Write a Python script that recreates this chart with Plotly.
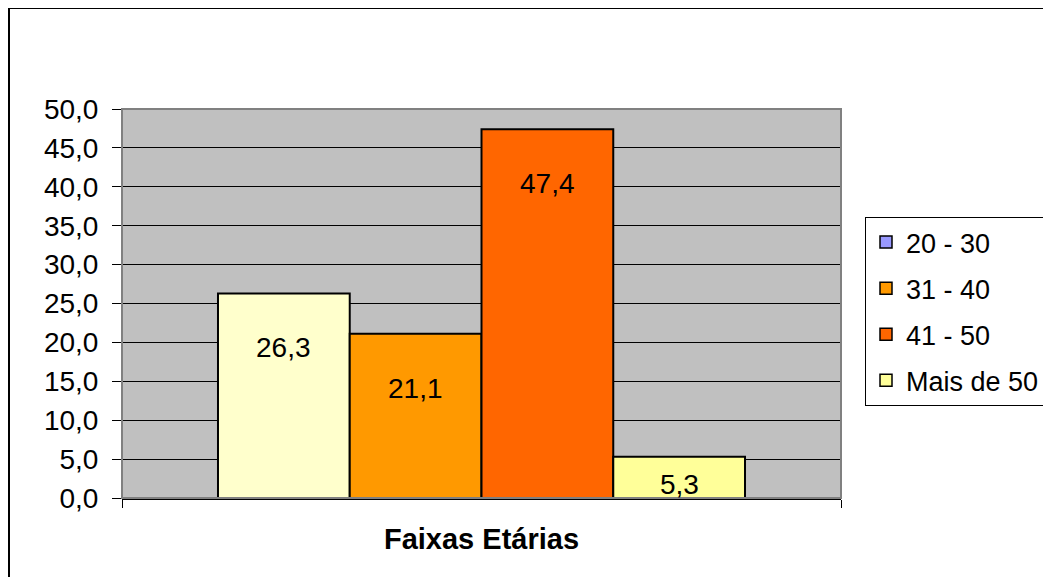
import plotly.graph_objects as go

# ---- data ----
categories = ["20 - 30", "31 - 40", "41 - 50", "Mais de 50"]
values = [26.3, 21.1, 47.4, 5.3]
bar_colors = ["#FFFFCC", "#FF9900", "#FF6600", "#FFFF99"]
legend_colors = ["#9999FF", "#FF9900", "#FF6600", "#FFFF99"]
y_ticks = [0, 5, 10, 15, 20, 25, 30, 35, 40, 45, 50]
x_title = "Faixas Etárias"

FONT = "Liberation Sans, Arial, sans-serif"
OFF = 8  # browser body margin
W, H = 1051 - OFF, 577 - OFF
L, T = 122 - OFF, 109 - OFF
pw, ph = 719, 389
R, B = W - L - pw, H - T - ph

gap = 0.267
bw = (1 - gap) / len(values)
start = -0.5 + gap / 2

fig = go.Figure()

for i, (c, v) in enumerate(zip(categories, values)):
    fig.add_trace(go.Bar(
        x=[0], y=[v], width=bw, offset=start + i * bw,
        marker=dict(color=bar_colors[i], line=dict(color="black", width=2)),
        showlegend=False, hoverinfo="skip", name=c,
    ))

for i, c in enumerate(categories):
    fig.add_trace(go.Bar(
        x=[None], y=[None], name=c, legendgroup=c,
        marker=dict(color=legend_colors[i], line=dict(color="black", width=1.5)),
        showlegend=True,
    ))

# data labels
for i, v in enumerate(values):
    fig.add_annotation(
        x=start + i * bw + bw / 2, y=max(v - 7, v / 3), xref="x", yref="y",
        text=f"{v:.1f}".replace(".", ","), showarrow=False,
        font=dict(family=FONT, size=28, color="black"),
    )

# plot area border (grey)
fig.add_shape(type="rect", xref="paper", yref="paper", x0=0, x1=1, y0=0, y1=1,
              line=dict(color="#808080", width=2), fillcolor="rgba(0,0,0,0)", layer="above")
# outer chart border
fig.add_shape(type="rect", xref="paper", yref="paper",
              x0=(1 - L) / pw, x1=(W + 10 - L) / pw,
              y0=-(B + 10) / ph, y1=(H - B - 0) / ph,
              line=dict(color="black", width=2), fillcolor="rgba(0,0,0,0)", layer="above")

fig.update_layout(
    width=W, height=H,
    margin=dict(l=L, r=R, t=T, b=B, autoexpand=False),
    paper_bgcolor="white", plot_bgcolor="#C0C0C0",
    separators=",.",
    font=dict(family=FONT, size=28, color="black"),
    barmode="overlay",
    legend=dict(x=(865 - OFF - L) / pw, xanchor="left", y=(H - B - (217 - OFF)) / ph, yanchor="top",
                bgcolor="white", bordercolor="black", borderwidth=1,
                font=dict(family=FONT, size=27, color="black"),
                tracegroupgap=8, traceorder="grouped"),
    xaxis=dict(range=[-0.5, 0.5], tickvals=[-0.5, 0.5], showticklabels=False,
               ticks="outside", ticklen=8, tickcolor="black", showgrid=False,
               zeroline=False, showline=True, linecolor="black", linewidth=2,
               automargin=False,
               title=dict(text=f"<b>{x_title}</b>", standoff=22,
                          font=dict(family=FONT, size=29, color="black"))),
    yaxis=dict(range=[0, 50], tickvals=y_ticks, tickformat=".1f",
               ticks="outside", ticklen=9, tickcolor="black", ticklabelstandoff=8,
               showgrid=True, gridcolor="black", gridwidth=1, zeroline=False,
               showline=False, automargin=False,
               tickfont=dict(family=FONT, size=28, color="black")),
)

fig.write_html("out.html")
